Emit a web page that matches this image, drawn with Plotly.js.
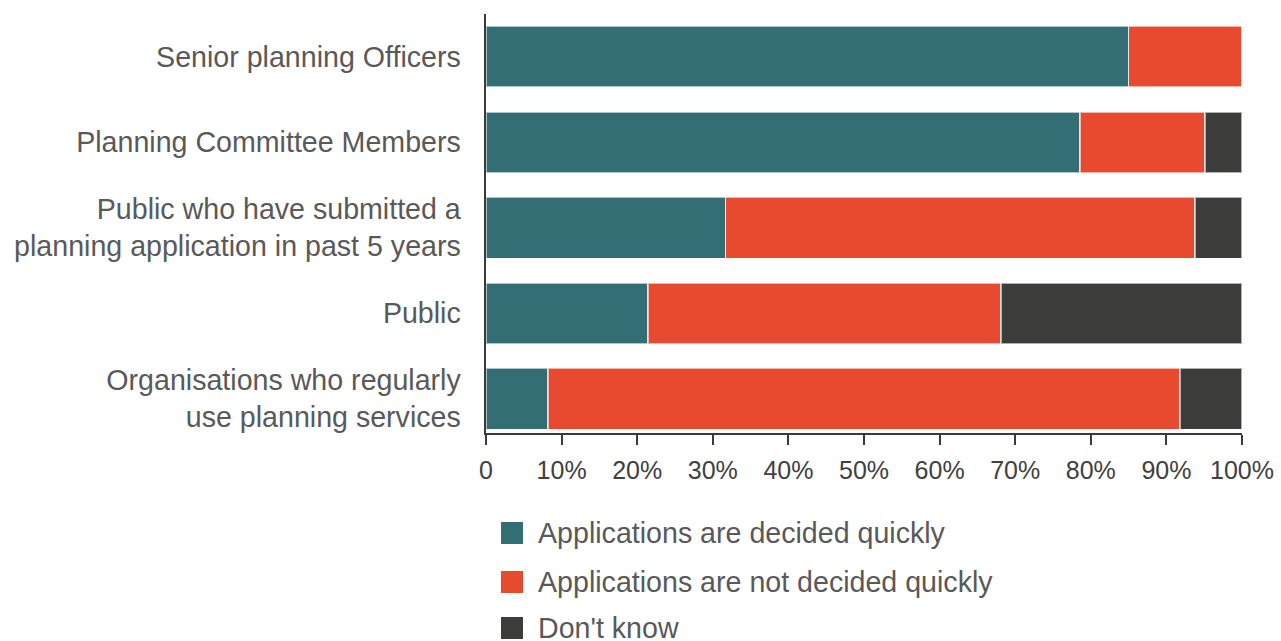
<!DOCTYPE html>
<html>
<head>
<meta charset="utf-8">
<script src="https://cdn.plot.ly/plotly-3.0.1.min.js"></script>
<style>
  html, body { margin: 0; padding: 0; background: #ffffff; }
  #chart { width: 1281px; height: 641px; }
</style>
</head>
<body>
<div id="chart"></div>
<script>
// Categories (top to bottom)
var categories = [
  "Senior planning Officers",
  "Planning Committee Members",
  "Public who have submitted a<br>planning application in past 5 years",
  "Public",
  "Organisations who regularly<br>use planning services"
];
// Series values (% of respondents)
var decidedQuickly    = [85.0, 78.6, 31.7, 21.4, 8.2];
var notDecidedQuickly = [15.0, 16.5, 62.1, 46.7, 83.6];
var dontKnow          = [0.0, 4.9, 6.2, 31.9, 8.2];

var seriesNames = ["Applications are decided quickly", "Applications are not decided quickly", "Don't know"];
var seriesColors = ["#336e74", "#e84a2f", "#3c3c3b"];

// X tick labels
var xTickVals = [0, 10, 20, 30, 40, 50, 60, 70, 80, 90, 100];
var xTickText = ["0", "10%", "20%", "30%", "40%", "50%", "60%", "70%", "80%", "90%", "100%"];

var seriesValues = [decidedQuickly, notDecidedQuickly, dontKnow];
var FONT = "Liberation Sans, Arial, sans-serif";

var traces = seriesValues.map(function (vals, i) {
  return {
    type: "bar",
    orientation: "h",
    name: seriesNames[i],
    x: vals,
    y: categories,
    marker: { color: seriesColors[i], line: { color: "rgba(255,255,255,0.6)", width: 1.5 } },
    showlegend: false,
    hoverinfo: "x+name"
  };
});

// Plot area in pixels
var W = 1281, H = 641;
var L = 486, R = 39, T = 14, B = 208;
var plotW = W - L - R, plotH = H - T - B;
function px2x(px) { return (px - L) / plotW; }
function py2y(py) { return (H - B - py) / plotH; }

// Manual legend below plot (squares + labels)
var shapes = [], annotations = [];
var legendCenters = [533, 582, 628];
for (var i = 0; i < seriesNames.length; i++) {
  var cy = legendCenters[i];
  shapes.push({
    type: "rect", xref: "paper", yref: "paper",
    x0: px2x(501), x1: px2x(523), y0: py2y(cy + 11), y1: py2y(cy - 11),
    fillcolor: seriesColors[i], line: { width: 0 }
  });
  annotations.push({
    xref: "paper", yref: "paper", x: px2x(536), y: py2y(cy),
    xanchor: "left", yanchor: "middle", showarrow: false,
    text: seriesNames[i],
    font: { family: FONT, size: 28.6, color: "#595959" }
  });
}

var layout = {
  width: W, height: H,
  margin: { l: L, r: R, t: T, b: B, pad: 0 },
  paper_bgcolor: "#ffffff", plot_bgcolor: "#ffffff",
  barmode: "stack",
  bargap: 0.287,
  showlegend: false,
  xaxis: {
    range: [0, 100],
    tickvals: xTickVals, ticktext: xTickText,
    ticks: "outside", ticklen: 10, tickwidth: 2, tickcolor: "#3a3a3a",
    ticklabelstandoff: 4,
    showline: true, linecolor: "#3a3a3a", linewidth: 2,
    showgrid: false, zeroline: false,
    tickfont: { family: FONT, size: 25, color: "#404040" },
    fixedrange: true
  },
  yaxis: {
    type: "category",
    categoryorder: "array", categoryarray: categories,
    range: [4.4, -0.5],
    showline: true, linecolor: "#3a3a3a", linewidth: 2.5,
    ticks: "", showgrid: false, zeroline: false,
    ticklabelstandoff: 17,
    tickfont: { family: FONT, size: 28.6, color: "#595959" },
    fixedrange: true
  },
  shapes: shapes,
  annotations: annotations
};

Plotly.newPlot("chart", traces, layout, { displayModeBar: false, staticPlot: true });
</script>
</body>
</html>
